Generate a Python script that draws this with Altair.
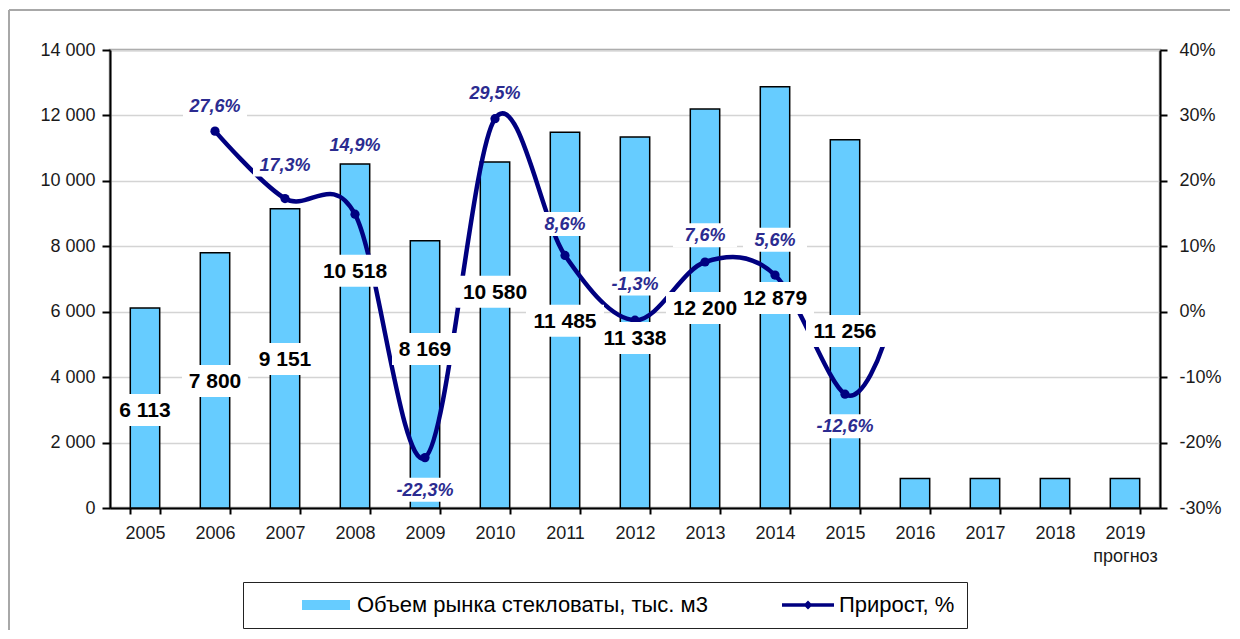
import altair as alt
import pandas as pd

# ---------------- data ----------------
years = [str(y) for y in range(2005, 2020)]
volume = [6113, 7800, 9151, 10518, 8169, 10580, 11485, 11338, 12200, 12879, 11256, 900, 900, 900, 900]

growth_years = list(range(2006, 2016))
growth = [27.6, 17.3, 14.9, -22.3, 29.5, 8.6, -1.3, 7.6, 5.6, -12.6]

# visible continuation of the smoothed curve after 2015 (no marker)
tail_year = [2015.54]
tail_growth = [-5.3]

# label anchor positions (layout)
vol_label_pos = [2996, 3882, 4555, 7254, 4860, 6612, 5726, 5197, 6113, 6420, 5410]
growth_label_pos = [31.5, 22.5, 25.5, -27.2, 33.5, 13.4, 4.3, 11.7, 11.0, -17.5]

series = ["Объем рынка стекловаты, тыс. м3", "Прирост, %"]

# ---------------- tables ----------------
df_vol = pd.DataFrame({"year": years, "volume": volume})
n_lab = len(vol_label_pos)
df_vlab = pd.DataFrame({
    "year": years[:n_lab],
    "pos": vol_label_pos,
    "txt": [f"{v:,}".replace(",", " ") for v in volume[:n_lab]],
})
df_vlab["len"] = df_vlab["txt"].str.len()
df_g = pd.DataFrame({
    "yr": growth_years,
    "g": growth,
    "pos": growth_label_pos,
    "txt": [f"{v:.1f}".replace(".", ",") + "%" for v in growth],
})
df_line = pd.concat([df_g[["yr", "g"]], pd.DataFrame({"yr": tail_year, "g": tail_growth})],
                    ignore_index=True)
df_leg = pd.DataFrame({"series": series})

FONT = "Liberation Sans"

# ---------------- scales ----------------
x_band = alt.Scale(domain=years, paddingInner=0.58, paddingOuter=0.29)
x_lin = alt.Scale(domain=[2004.5, 2019.5], nice=False, zero=False)
y_left = alt.Scale(domain=[0, 14000], nice=False)
y_right = alt.Scale(domain=[-30, 40], nice=False, zero=False)

x_axis = alt.Axis(title=None, tickBand="extent", labelAngle=0, labelFont=FONT, labelFontSize=18,
                  labelColor="#1a1a1a", labelPadding=10, tickSize=6, tickWidth=2, tickColor="black",
                  domainColor="black", domainWidth=2, grid=False,
                  labelExpr="datum.label == '2019' ? ['2019', 'прогноз'] : datum.label",
                  labelLineHeight=23)
left_axis = alt.Axis(title=None, values=list(range(0, 14001, 2000)),
                     labelExpr="replace(format(datum.value, ','), ',', ' ')",
                     labelFont=FONT, labelFontSize=18, labelColor="#1a1a1a", labelPadding=7,
                     tickSize=8, tickWidth=2, tickColor="black", domainColor="black", domainWidth=2,
                     grid=True, gridColor="#D4D4D4", gridWidth=1.5)
right_axis = alt.Axis(title=None, orient="right", values=list(range(-30, 41, 10)),
                      labelExpr="datum.value + '%'",
                      labelFont=FONT, labelFontSize=18, labelColor="#1a1a1a", labelPadding=12,
                      tickSize=7, tickWidth=2, tickColor="black", domainColor="black", domainWidth=2,
                      grid=False)

# ---------------- layers ----------------
frame_df = pd.DataFrame({"a": [0]})
frame_top = alt.Chart(frame_df).mark_rule(stroke="#A8A8A8", strokeWidth=2).encode(
    x=alt.value(-101), x2=alt.value(1120), y=alt.value(-40))
frame_left = alt.Chart(frame_df).mark_rule(stroke="#A8A8A8", strokeWidth=2).encode(
    x=alt.value(-101), y=alt.value(-40), y2=alt.value(590))

bars = alt.Chart(df_vol).mark_bar(fill="#66CCFF", stroke="black", strokeWidth=1.5).encode(
    x=alt.X("year:O", scale=x_band, axis=x_axis, sort=years),
    y=alt.Y("volume:Q", scale=y_left, axis=left_axis),
)

line = alt.Chart(df_line).mark_line(interpolate="cardinal", color="#000080", strokeWidth=4.5).encode(
    x=alt.X("yr:Q", scale=x_lin, axis=None),
    y=alt.Y("g:Q", scale=y_right, axis=right_axis),
)

pts = alt.Chart(df_g).mark_circle(size=85, color="#000080", opacity=1).encode(
    x=alt.X("yr:Q", scale=x_lin, axis=None),
    y=alt.Y("g:Q", scale=y_right, axis=None),
)

box_short = alt.Chart(df_vlab).transform_filter("datum.len <= 5").mark_point(
    shape="M-1,-0.485H1V0.485H-1Z", filled=True, fill="white", strokeWidth=0, opacity=1, size=66 * 66
).encode(
    x=alt.X("year:O", scale=x_band, axis=None, sort=years),
    y=alt.Y("pos:Q", scale=y_left, axis=None),
)
box_long = alt.Chart(df_vlab).transform_filter("datum.len > 5").mark_point(
    shape="M-1,-0.41H1V0.41H-1Z", filled=True, fill="white", strokeWidth=0, opacity=1, size=78 * 78
).encode(
    x=alt.X("year:O", scale=x_band, axis=None, sort=years),
    y=alt.Y("pos:Q", scale=y_left, axis=None),
)
vol_text = alt.Chart(df_vlab).mark_text(
    font=FONT, fontSize=21, fontWeight="bold", color="black", baseline="middle", dy=1
).encode(
    x=alt.X("year:O", scale=x_band, axis=None, sort=years),
    y=alt.Y("pos:Q", scale=y_left, axis=None),
    text="txt:N",
)

pct_box = alt.Chart(df_g).mark_point(
    shape="M-1,-0.375H1V0.375H-1Z", filled=True, fill="white", strokeWidth=0, opacity=1, size=64 * 64
).encode(
    x=alt.X("yr:Q", scale=x_lin, axis=None),
    y=alt.Y("pos:Q", scale=y_right, axis=None),
)
pct_text = alt.Chart(df_g).mark_text(
    font=FONT, fontSize=18, fontWeight="bold", fontStyle="italic", color="#2B2B90", baseline="middle", dy=1
).encode(
    x=alt.X("yr:Q", scale=x_lin, axis=None),
    y=alt.Y("pos:Q", scale=y_right, axis=None),
    text="txt:N",
)

leg_scale_fill = alt.Scale(domain=series, range=["#66CCFF", "#000080"])
leg_scale_shape = alt.Scale(domain=series, range=[
    "M-2.4,-0.5H2.4V0.5H-2.4Z",
    "M-2.6,-0.17H2.6V0.17H-2.6Z M0,-0.45L0.45,0L0,0.45L-0.45,0Z",
])
legend = alt.Legend(title=None, orient="none", legendX=133, legendY=532, direction="horizontal",
                    strokeColor="#222222", fillColor="white", padding=12,
                    labelFont=FONT, labelFontSize=22, labelColor="black", labelOffset=20,
                    labelLimit=600,
                    symbolSize=400, symbolStrokeColor="black", symbolStrokeWidth=1.2,
                    columnPadding=29, symbolOffset=60)
leg = alt.Chart(df_leg).transform_filter("false").mark_point(filled=True, opacity=1).encode(
    fill=alt.Fill("series:N", scale=leg_scale_fill, legend=legend),
    shape=alt.Shape("series:N", scale=leg_scale_shape, legend=legend),
)

chart = alt.layer(
    frame_top, frame_left, bars, line, pts, box_short, box_long, vol_text, pct_box, pct_text, leg
).resolve_scale(
    x="independent", y="independent"
).properties(
    width=1050, height=458,
    autosize=alt.AutoSizeParams(type="none"),
    padding={"left": 102, "top": 42, "right": 70, "bottom": 122},
    background="white",
).configure_view(
    stroke="#A0A0A0", strokeWidth=2.5
)

chart.save("out.html", embed_options={"renderer": "svg", "actions": False})
